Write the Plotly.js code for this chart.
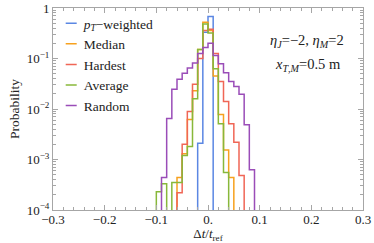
<!DOCTYPE html>
<html>
<head>
<meta charset="utf-8">
<script src="https://cdn.plot.ly/plotly-3.0.1.min.js"></script>
<style>html,body{margin:0;padding:0;background:#fff;}#chart{width:374px;height:243px;}</style>
</head>
<body>
<div id="chart"></div>
<script>
// Bin edges (width 0.01) from -0.10 to 0.10
var binStart = -0.10;
var binWidth = 0.01;
var nBins = 20;

// Probabilities per bin (0 = empty bin)
var ptWeighted = [0,0,0,0,0,0,0,0,0.0021,0.33,0.68,0,0,0,0,0,0,0,0,0];
var median     = [0,0,0,0,0.00044,0.0013,0.0062,0.023,0.15,0.52,0.36,0.045,0.0078,0.00155,0.00044,0,0,0,0,0];
var hardest    = [0,0,0,0,0.00022,0.0020,0.0089,0.031,0.10,0.36,0.38,0.126,0.035,0.014,0.0051,0.0022,0.00048,0,0,0];
var average    = [0.00023,0.00033,0,0.00035,0.00035,0.0012,0.0018,0.016,0.15,0.48,0.32,0.063,0.0051,0.00055,0,0,0,0,0,0];
var random     = [0,0.00044,0.0065,0.0245,0.039,0.051,0.065,0.081,0.126,0.166,0.20,0.115,0.079,0.052,0.035,0.028,0.0195,0.0049,0.00063,0];

var seriesNames = ['<i>p</i><sub><i>T</i></sub>\u2212weighted','Median','Hardest','Average','Random'];
var seriesData = [ptWeighted, median, hardest, average, random];
var seriesColors = ['#5b87e3','#f7a11e','#f06656','#88b83a','#9a4db8'];

var FLOOR = 1e-7;
function stepTrace(vals, name, color){
  var xs = [], ys = [];
  xs.push(binStart); ys.push(FLOOR);
  for (var i = 0; i < nBins; i++){
    var a = +(binStart + i*binWidth).toFixed(4);
    var b = +(binStart + (i+1)*binWidth).toFixed(4);
    var v = vals[i] > 0 ? vals[i] : FLOOR;
    xs.push(a); ys.push(v);
    xs.push(b); ys.push(v);
  }
  xs.push(+(binStart + nBins*binWidth).toFixed(4)); ys.push(FLOOR);
  return {x: xs, y: ys, type: 'scatter', mode: 'lines', name: name,
          line: {color: color, width: 1.5, shape: 'linear'}, hoverinfo: 'skip'};
}

var traces = [];
for (var s = 0; s < seriesData.length; s++) traces.push(stepTrace(seriesData[s], seriesNames[s], seriesColors[s]));

var xTickVals = [-0.3,-0.2,-0.1,0,0.1,0.2,0.3];
var xTickText = ['\u22120.3','\u22120.2','\u22120.1','0.','0.1','0.2','0.3'];
var yTickVals = [1e-4,1e-3,1e-2,1e-1,1];
var yTickText = ['10<sup>\u22124</sup>','10<sup>\u22123</sup>','10<sup>\u22122</sup>','10<sup>\u22121</sup>','1'];
var yMinor = [];
for (var e = -4; e < 0; e++) for (var k = 2; k <= 9; k++) yMinor.push(k*Math.pow(10,e));

var FONT = 'Liberation Serif, Times New Roman, serif';
var frameColor = '#a6a6a6';

var layout = {
  width: 374, height: 243,
  margin: {l: 53, r: 11, t: 8, b: 33},
  paper_bgcolor: '#fff', plot_bgcolor: '#fff',
  font: {family: FONT, size: 13, color: '#222'},
  showlegend: true,
  legend: {x: -0.03, y: 1.0, xanchor: 'left', yanchor: 'top', bgcolor: 'rgba(0,0,0,0)',
           font: {family: FONT, size: 13.5, color: '#222'}, tracegroupgap: 0, itemwidth: 30},
  xaxis: {range: [-0.3, 0.3], tickvals: xTickVals, ticktext: xTickText, ticks: 'inside', ticklen: 5,
          tickcolor: frameColor, showline: true, linecolor: frameColor, linewidth: 1, mirror: 'allticks',
          showgrid: false, zeroline: false, ticklabelstandoff: -3,
          minor: {dtick: 0.02, ticks: 'inside', ticklen: 3, tickcolor: frameColor, showgrid: false},
          tickfont: {family: FONT, size: 13, color: '#222'},
          title: {text: '\u0394<i>t</i>/<i>t</i><sub>ref</sub>', font: {family: FONT, size: 13, color: '#222'}, standoff: 9}},
  yaxis: {type: 'log', range: [-4, 0], tickvals: yTickVals, ticktext: yTickText, ticks: 'inside', ticklen: 5,
          tickcolor: frameColor, showline: true, linecolor: frameColor, linewidth: 1, mirror: 'allticks',
          showgrid: false, zeroline: false,
          minor: {tickvals: yMinor, ticks: 'inside', ticklen: 3, tickcolor: frameColor, showgrid: false},
          tickfont: {family: FONT, size: 13, color: '#222'},
          title: {text: 'Probability', font: {family: FONT, size: 13.5, color: '#222'}, standoff: 3}},
  annotations: [
    {xref: 'paper', yref: 'paper', x: 0.945, y: 0.835, xanchor: 'right', yanchor: 'middle', showarrow: false,
     text: '<i>\u03b7</i><sub><i>J</i></sub>=\u22122, <i>\u03b7</i><sub><i>M</i></sub>=2', font: {family: FONT, size: 14.5, color: '#222'}},
    {xref: 'paper', yref: 'paper', x: 0.935, y: 0.72, xanchor: 'right', yanchor: 'middle', showarrow: false,
     text: '<i>x</i><sub><i>T</i>,<i>M</i></sub>=0.5 m', font: {family: FONT, size: 14.5, color: '#222'}}
  ]
};

function fixLegend(){
  var paths = document.querySelectorAll('g.legend path.js-line');
  paths.forEach(function(p){ p.setAttribute('d','M22,0h11'); });
}
Plotly.newPlot('chart', traces, layout, {staticPlot: true, displayModeBar: false}).then(fixLegend);
</script>
</body>
</html>
